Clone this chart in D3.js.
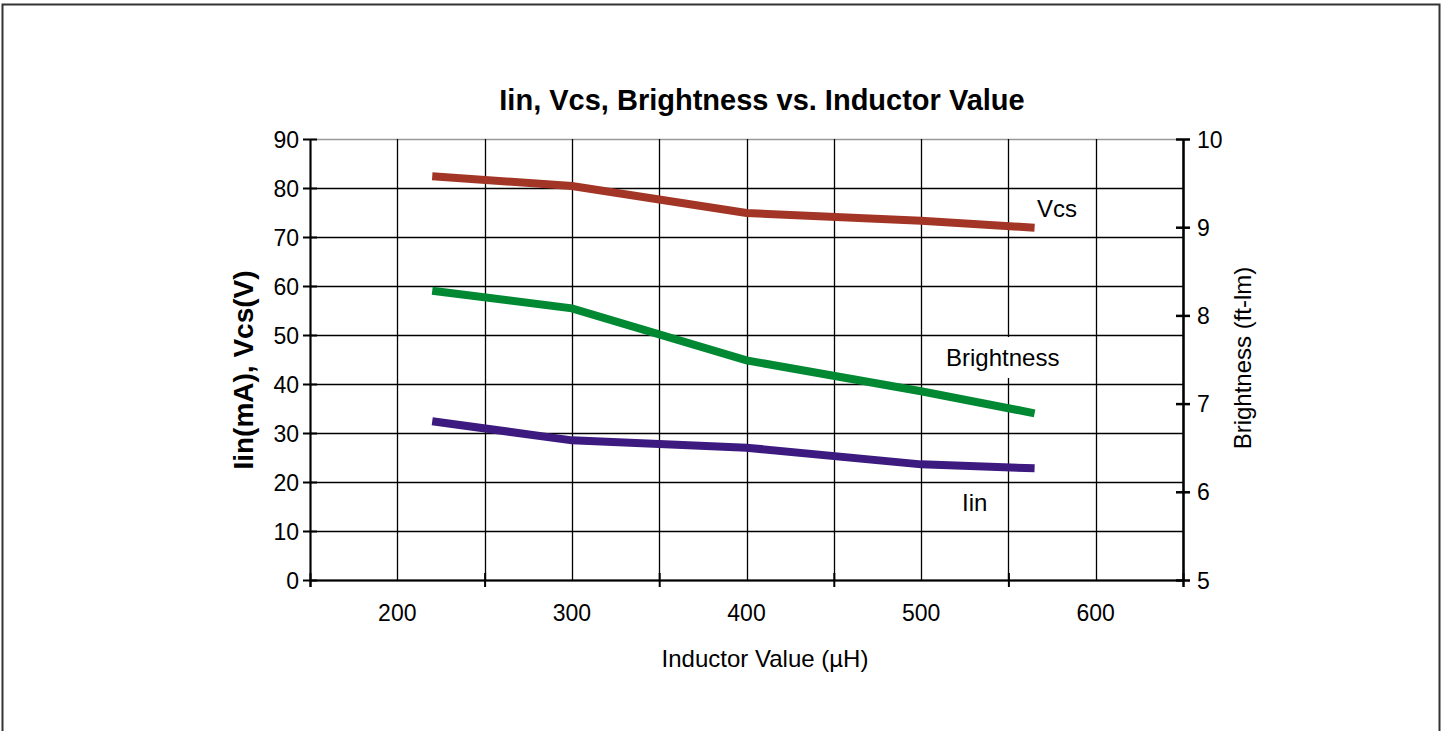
<!DOCTYPE html>
<html>
<head>
<meta charset="utf-8">
<script src="https://cdn.jsdelivr.net/npm/d3@7"></script>
<style>
  body { margin: 0; background: #fff; }
  text { font-family: "Liberation Sans", Arial, sans-serif; fill: #000; }
</style>
</head>
<body>
<div id="chart"></div>
<script>
// data
var inductor = [220, 300, 400, 500, 565];
var vcs = [82.4, 80.4, 74.9, 73.3, 71.9];
var iin = [32.4, 28.5, 27.0, 23.6, 22.8];
var brightness = [8.28, 8.08, 7.49, 7.14, 6.89];

var xTicks = [150, 250, 350, 450, 550, 650];
var xLabels = [200, 300, 400, 500, 600];
var xGrid = [150, 200, 250, 300, 350, 400, 450, 500, 550, 600, 650];
var leftTicks = [0, 10, 20, 30, 40, 50, 60, 70, 80, 90];
var rightTicks = [5, 6, 7, 8, 9, 10];

var svgWidth = 1442;
var svgHeight = 731;

var margin = { top: 139, right: 259, bottom: 151, left: 310 };
var width = svgWidth - margin.left - margin.right;
var height = svgHeight - margin.top - margin.bottom;

var tickFont = "23px";
var labelFont = "24px";

var svg = d3.select("#chart")
    .append("svg")
    .attr("width", svgWidth)
    .attr("height", svgHeight);

// outer frame
svg.append("rect")
    .attr("x", 2.5).attr("y", 4.5)
    .attr("width", 1437).attr("height", 760)
    .attr("fill", "none")
    .attr("stroke", "#333")
    .attr("stroke-width", 2);

var chartGroup = svg.append("g")
    .attr("transform", `translate(${margin.left}, ${margin.top})`);

var x = d3.scaleLinear().domain([150, 650]).range([0, width]);
var yLeft = d3.scaleLinear().domain([0, 90]).range([height, 0]);
var yRight = d3.scaleLinear().domain([5, 10]).range([height, 0]);

// grid
chartGroup.append("g").selectAll("line")
    .data(leftTicks)
    .enter()
    .append("line")
    .attr("x1", 0).attr("x2", width)
    .attr("y1", d => Math.round(yLeft(d)) + 0.5)
    .attr("y2", d => Math.round(yLeft(d)) + 0.5)
    .attr("stroke", d => d === 90 ? "#999" : "#000")
    .attr("stroke-width", 1.3);

chartGroup.append("g").selectAll("line")
    .data(xGrid)
    .enter()
    .append("line")
    .attr("x1", d => Math.round(x(d)) + 0.5)
    .attr("x2", d => Math.round(x(d)) + 0.5)
    .attr("y1", 0).attr("y2", height)
    .attr("stroke", "#000")
    .attr("stroke-width", 1.3);

// left axis
var leftAxis = d3.axisLeft(yLeft).tickValues(leftTicks).tickSizeInner(7).tickSizeOuter(0).tickPadding(4);
var gl = chartGroup.append("g").call(leftAxis);
gl.select(".domain").attr("stroke", "#000").attr("stroke-width", 2);
gl.selectAll(".tick line").attr("stroke-width", 2).attr("x1", 7);
gl.selectAll("text").style("font-size", tickFont).attr("dy", "0.35em");

// right axis
var rightAxis = d3.axisRight(yRight).tickValues(rightTicks).tickFormat(d3.format("d"))
    .tickSizeInner(7).tickSizeOuter(0).tickPadding(7);
var gr = chartGroup.append("g")
    .attr("transform", `translate(${width}, 0)`)
    .call(rightAxis);
gr.select(".domain").attr("stroke", "#000").attr("stroke-width", 2.5);
gr.selectAll(".tick line").attr("stroke-width", 2.5).attr("x1", -7);
gr.selectAll("text").style("font-size", tickFont).attr("dy", "0.35em");

// bottom axis: ticks between labels
var bottomAxis = d3.axisBottom(x).tickValues(xTicks).tickSize(7).tickFormat("");
var gb = chartGroup.append("g")
    .attr("transform", `translate(0, ${height})`)
    .call(bottomAxis);
gb.select(".domain").attr("stroke", "#000").attr("stroke-width", 2);
gb.selectAll(".tick line").attr("stroke-width", 2).attr("y1", -7).attr("y2", 7);

chartGroup.append("g").selectAll("text")
    .data(xLabels)
    .enter()
    .append("text")
    .attr("x", d => x(d))
    .attr("y", height + 41)
    .attr("text-anchor", "middle")
    .style("font-size", tickFont)
    .text(d => d);

// lines
var series = [
    { name: "Vcs", values: vcs, y: yLeft, color: "#a33526" },
    { name: "Brightness", values: brightness, y: yRight, color: "#008833" },
    { name: "Iin", values: iin, y: yLeft, color: "#3c1a80" }
];

series.forEach(s => {
    var line = d3.line()
        .x((d, i) => x(inductor[i]))
        .y(d => s.y(d));
    chartGroup.append("path")
        .datum(s.values)
        .attr("d", line)
        .attr("fill", "none")
        .attr("stroke", s.color)
        .attr("stroke-width", 8);
});

// series labels
chartGroup.append("text")
    .attr("x", 1037 - margin.left).attr("y", 217 - margin.top)
    .style("font-size", labelFont).text("Vcs");

chartGroup.append("rect")
    .attr("x", 942 - margin.left).attr("y", 337 - margin.top)
    .attr("width", 124).attr("height", 41)
    .attr("fill", "#fff");
chartGroup.append("text")
    .attr("x", 946 - margin.left).attr("y", 366 - margin.top)
    .style("font-size", labelFont).text("Brightness");

chartGroup.append("text")
    .attr("x", 962 - margin.left).attr("y", 511 - margin.top)
    .style("font-size", labelFont).text("Iin");

// titles
svg.append("text")
    .attr("x", 762).attr("y", 110)
    .attr("text-anchor", "middle")
    .style("font-size", "29px").style("font-weight", "bold")
    .text("Iin, Vcs, Brightness vs. Inductor Value");

svg.append("text")
    .attr("x", 765).attr("y", 667)
    .attr("text-anchor", "middle")
    .style("font-size", labelFont)
    .text("Inductor Value (µH)");

svg.append("text")
    .attr("transform", "translate(253, 370) rotate(-90)")
    .attr("text-anchor", "middle")
    .style("font-size", "28px").style("font-weight", "bold")
    .text("Iin(mA), Vcs(V)");

svg.append("text")
    .attr("transform", "translate(1251, 358) rotate(-90)")
    .attr("text-anchor", "middle")
    .style("font-size", labelFont)
    .text("Brightness (ft-lm)");
</script>
</body>
</html>
